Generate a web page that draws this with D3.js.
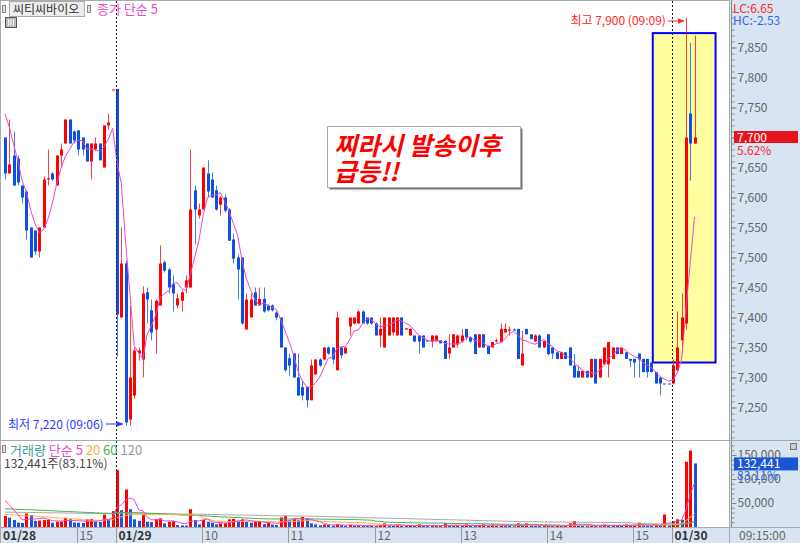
<!DOCTYPE html>
<html>
<head>
<meta charset="utf-8">
<script src="https://cdn.jsdelivr.net/npm/d3@7"></script>
<style>
  body { margin: 0; background: #fff; }
  svg text { font-family: "Noto Sans CJK KR", "Noto Sans", sans-serif; }
</style>
</head>
<body>
<svg id="chart" width="800" height="543"></svg>
<script>
// 3-minute bars: 01/28 (tail), 01/29 (full day), 01/30 (first 6 bars)
const opens = [
  7700, 7640, 7670, 7665, 7620, 7610, 7550, 7545, 7510, 7550, 7630, 7640, 7620, 7670, 7690, 7730, 7710, 7712, 7700, 7690,
  7660, 7680, 7690, 7650, 7720, 7780,
  7781, 7400, 7490, 7230, 7270, 7340, 7330, 7442, 7412, 7380, 7420, 7492, 7480, 7456, 7420, 7428, 7450, 7450, 7612, 7570,
  7580, 7640, 7630, 7612, 7588, 7600, 7580, 7530, 7500, 7500, 7380, 7400, 7442, 7420, 7431, 7420, 7420, 7408, 7400, 7350,
  7332, 7340, 7300, 7284, 7284, 7262, 7305, 7330, 7330, 7350, 7350, 7312, 7350, 7340, 7385, 7390, 7390, 7410, 7400, 7400,
  7390, 7370, 7350, 7370, 7375, 7370, 7400, 7380, 7370, 7370, 7370, 7370, 7362, 7360, 7360, 7362, 7361, 7340, 7350, 7355,
  7360, 7381, 7367, 7372, 7350, 7372, 7353, 7350, 7360, 7359, 7375, 7378, 7380, 7381, 7320, 7381, 7372, 7360, 7370, 7350,
  7372, 7350, 7342, 7331, 7342, 7350, 7320, 7311, 7300, 7311, 7300, 7331, 7300, 7322, 7322, 7331, 7350, 7339, 7342, 7331,
  7331, 7340, 7331, 7331, 7325, 7309, 7300, 7290, 7290,
  7290, 7312, 7362, 7390, 7740, 7690
];
const highs = [
  7700, 7730, 7710, 7670, 7620, 7612, 7550, 7545, 7550, 7635, 7680, 7642, 7670, 7690, 7730, 7730, 7712, 7712, 7700, 7690,
  7690, 7700, 7690, 7720, 7740, 7780,
  7781, 7550, 7495, 7420, 7350, 7350, 7452, 7450, 7430, 7430, 7520, 7495, 7482, 7470, 7440, 7445, 7470, 7680, 7620, 7590,
  7650, 7662, 7642, 7620, 7602, 7605, 7582, 7540, 7505, 7500, 7440, 7440, 7450, 7450, 7450, 7422, 7422, 7410, 7400, 7350,
  7340, 7340, 7340, 7295, 7284, 7330, 7330, 7332, 7350, 7352, 7350, 7410, 7350, 7350, 7400, 7400, 7412, 7412, 7400, 7400,
  7392, 7400, 7400, 7400, 7400, 7400, 7400, 7382, 7382, 7370, 7370, 7370, 7362, 7370, 7370, 7362, 7362, 7372, 7372, 7372,
  7381, 7381, 7367, 7372, 7372, 7372, 7353, 7359, 7365, 7390, 7390, 7385, 7382, 7381, 7378, 7381, 7372, 7372, 7372, 7361,
  7372, 7350, 7342, 7342, 7342, 7350, 7339, 7320, 7311, 7311, 7331, 7331, 7331, 7350, 7359, 7350, 7350, 7350, 7342, 7331,
  7331, 7340, 7331, 7331, 7325, 7309, 7300, 7290, 7290,
  7330, 7410, 7440, 7900, 7858, 7870
];
const lows = [
  7630, 7640, 7620, 7620, 7590, 7530, 7500, 7505, 7500, 7550, 7620, 7628, 7620, 7650, 7690, 7690, 7690, 7670, 7670, 7660,
  7630, 7678, 7662, 7650, 7712, 7780,
  7335, 7400, 7220, 7220, 7265, 7328, 7300, 7390, 7362, 7340, 7420, 7475, 7440, 7410, 7415, 7410, 7440, 7450, 7522, 7565,
  7580, 7600, 7600, 7578, 7570, 7575, 7528, 7490, 7430, 7388, 7380, 7400, 7420, 7420, 7408, 7410, 7410, 7395, 7350, 7310,
  7303, 7300, 7270, 7262, 7250, 7262, 7305, 7318, 7330, 7338, 7322, 7312, 7332, 7340, 7370, 7388, 7390, 7390, 7388, 7388,
  7370, 7350, 7350, 7370, 7370, 7370, 7370, 7380, 7370, 7359, 7340, 7350, 7360, 7350, 7360, 7357, 7331, 7331, 7350, 7350,
  7358, 7362, 7358, 7339, 7350, 7350, 7339, 7350, 7358, 7359, 7375, 7370, 7378, 7331, 7320, 7372, 7364, 7360, 7350, 7350,
  7337, 7331, 7331, 7331, 7331, 7320, 7300, 7300, 7300, 7300, 7300, 7290, 7300, 7322, 7300, 7331, 7339, 7339, 7331, 7318,
  7300, 7300, 7309, 7300, 7309, 7290, 7270, 7290, 7290,
  7288, 7310, 7340, 7380, 7628, 7690
];
const closes = [
  7640, 7655, 7620, 7625, 7600, 7545, 7500, 7510, 7550, 7630, 7632, 7630, 7670, 7680, 7730, 7690, 7695, 7680, 7680, 7660,
  7690, 7690, 7662, 7720, 7725, 7780,
  7405, 7490, 7225, 7300, 7345, 7345, 7440, 7430, 7375, 7428, 7490, 7478, 7450, 7440, 7432, 7442, 7462, 7580, 7580, 7580,
  7650, 7610, 7600, 7580, 7600, 7578, 7528, 7498, 7480, 7390, 7430, 7430, 7420, 7431, 7410, 7412, 7412, 7400, 7350, 7312,
  7320, 7300, 7270, 7270, 7262, 7320, 7330, 7320, 7350, 7340, 7330, 7400, 7337, 7350, 7400, 7400, 7410, 7390, 7390, 7390,
  7370, 7381, 7400, 7400, 7400, 7400, 7370, 7382, 7381, 7360, 7360, 7350, 7360, 7370, 7370, 7357, 7331, 7350, 7372, 7370,
  7370, 7367, 7360, 7339, 7372, 7350, 7339, 7359, 7362, 7381, 7381, 7380, 7380, 7331, 7340, 7372, 7364, 7370, 7350, 7361,
  7339, 7340, 7331, 7342, 7331, 7320, 7300, 7300, 7311, 7300, 7331, 7290, 7331, 7350, 7359, 7350, 7339, 7350, 7331, 7328,
  7325, 7330, 7309, 7309, 7309, 7290, 7290, 7290, 7290,
  7320, 7350, 7400, 7700, 7690, 7700
];
const volumes = [
  23000, 19500, 14500, 9000, 8500, 28000, 25000, 13000, 13500, 14500, 14800, 9000, 11000, 11500, 19500, 16000, 9500, 9000, 8500, 16000,
  16500, 11000, 10500, 26000, 16000, 33000,
  118700, 35000, 78000, 37000, 16000, 13000, 25000, 11000, 10500, 16000, 18000, 7600, 11000, 12000, 4000, 3500, 3000, 37000, 14600, 5500,
  14600, 11000, 9000, 5500, 7600, 8000, 16000, 17000, 13000, 16000, 11000, 9000, 11000, 12000, 6000, 9000, 5000, 4500, 20000, 23000,
  13600, 18000, 14000, 21000, 18000, 7600, 5500, 3500, 5000, 4000, 3000, 6000, 4000, 2500, 4500, 3000, 3500, 2500, 2000, 2500,
  2000, 4000, 7600, 3000, 2500, 5500, 3000, 2000, 2500, 2000, 5500, 3000, 2000, 2500, 2000, 3000, 7600, 3000, 2500, 3000,
  2500, 5500, 2500, 2000, 3000, 5500, 3000, 5500, 2500, 4000, 2500, 2000, 1500, 7600, 3000, 7600, 3000, 2500, 2000, 3000,
  2500, 2000, 2500, 2000, 3000, 7600, 12500, 3000, 2500, 2000, 3000, 2500, 2000, 5500, 3000, 2500, 3000, 2500, 5500, 3000,
  4000, 9000, 3000, 2500, 2000, 5500, 3000, 26000, 3000,
  12000, 16000, 15000, 136000, 159360, 132441
];

const tickIndex = [0, 17, 26, 46, 66, 86, 106, 126, 146, 155];
const tickLabels = ['01/28', '15', '01/29', '10', '11', '12', '13', '14', '15', '01/30'];
const dayStarts = [26, 155];          // first bar of 01/29 and 01/30
const priceTicks = d3.range(7250, 7851, 50);
const volTicks = [50000, 100000, 150000];
const priceMaStart = 7740;            // close MA5 at the first visible bar
const volMaStart = { 5: 55000, 20: 26000, 60: 38000, 120: 31000 };
const clockLabel = '09:15:00';

const W = 800, H = 543;
const plotRight = 729;
const svg = d3.select('#chart');

const x = d3.scaleLinear().domain([26, 155]).range([117, 673]);
const y = d3.scaleLinear().domain([7250, 7850]).range([407.5, 47.5]);
const yv = d3.scaleLinear().domain([0, 150000]).range([527, 455]);

const RED = '#ff0000', BLUE = '#0a4fe6';
const fmt = d3.format(',');

function movingAvg(values, n, startAvg) {
  const seed = (startAvg * n - values[0]) / (n - 1);
  return values.map((v, i) => {
    let sum = 0;
    for (let k = i - n + 1; k <= i; k++) sum += k < 0 ? seed : values[k];
    return sum / n;
  });
}

function barTime(i) {
  const start = d3.max(dayStarts.filter(s => s <= i));
  const m = 9 * 60 + (i - start) * 3;
  return String(Math.floor(m / 60)).padStart(2, '0') + ':' + String(m % 60).padStart(2, '0');
}

const candleColor = (i) => {
  if (closes[i] > opens[i]) return RED;
  if (closes[i] < opens[i]) return BLUE;
  return i > 0 && closes[i] > closes[i - 1] ? RED : BLUE;
};

// backgrounds
svg.append('rect').attr('x', 0).attr('y', 0).attr('width', W).attr('height', H).attr('fill', '#fff');
svg.append('rect').attr('x', plotRight).attr('y', 0).attr('width', W - plotRight).attr('height', H).attr('fill', '#d8e4f1');
svg.append('rect').attr('x', 0).attr('y', 527).attr('width', W).attr('height', 16).attr('fill', '#d8e4f1');

const defs = svg.append('defs');
defs.append('clipPath').attr('id', 'clipPrice')
  .append('rect').attr('x', 1).attr('y', 1).attr('width', plotRight - 1).attr('height', 439);
defs.append('clipPath').attr('id', 'clipVol')
  .append('rect').attr('x', 1).attr('y', 441).attr('width', plotRight - 1).attr('height', 86);
['red', 'blue'].forEach(c => {
  defs.append('marker').attr('id', 'arrow-' + c).attr('viewBox', '0 0 10 10')
    .attr('refX', 9).attr('refY', 5).attr('markerWidth', 7).attr('markerHeight', 7)
    .attr('orient', 'auto')
    .append('path').attr('d', 'M0,1 L10,5 L0,9 z').attr('fill', c === 'red' ? '#ff2a2a' : '#1f3cff');
});

// frame lines
svg.append('line').attr('x1', 0.5).attr('x2', 0.5).attr('y1', 0).attr('y2', 543).attr('stroke', '#aaa');
svg.append('line').attr('x1', 0).attr('x2', plotRight).attr('y1', 0.5).attr('y2', 0.5).attr('stroke', '#aaa');
svg.append('line').attr('x1', 0).attr('x2', W).attr('y1', 440.5).attr('y2', 440.5).attr('stroke', '#aaa');
svg.append('line').attr('x1', 0).attr('x2', W).attr('y1', 527.5).attr('y2', 527.5).attr('stroke', '#aaa');
svg.append('line').attr('x1', plotRight + 0.5).attr('x2', plotRight + 0.5).attr('y1', 0).attr('y2', 543).attr('stroke', '#aaa');

// ---------- price pane ----------
const price = svg.append('g').attr('clip-path', 'url(#clipPrice)');

// highlight box round the surge
const boxL = x(151) - 3, boxR = x(160) + 21;
price.append('rect')
  .attr('x', boxL).attr('y', y(7874))
  .attr('width', boxR - boxL).attr('height', y(7325) - y(7874))
  .attr('fill', '#ffffa0').attr('stroke', '#0000ff').attr('stroke-width', 2);

const idx = d3.range(opens.length);
const cx = (i) => Math.round(x(i)) + 0.5;

price.selectAll('line.wick').data(idx).join('line')
  .attr('class', 'wick')
  .attr('x1', cx).attr('x2', cx)
  .attr('y1', i => y(highs[i])).attr('y2', i => y(lows[i]))
  .attr('stroke', candleColor).attr('stroke-opacity', 0.75).attr('stroke-width', 1);

price.selectAll('rect.body').data(idx).join('rect')
  .attr('class', 'body')
  .attr('x', i => cx(i) - 1.5).attr('width', 3)
  .attr('y', i => y(Math.max(opens[i], closes[i])))
  .attr('height', i => Math.max(1, Math.abs(y(opens[i]) - y(closes[i]))))
  .attr('fill', candleColor);

const ma5 = movingAvg(closes, 5, priceMaStart);
price.append('path')
  .attr('d', d3.line().x((d, i) => x(i)).y(d => y(d))(ma5))
  .attr('fill', 'none').attr('stroke', '#ee44cc').attr('stroke-width', 1);

// high / low markers
const hiIdx = d3.maxIndex(highs), loIdx = d3.minIndex(lows);
const hi = highs[hiIdx], lo = lows[loIdx];
svg.append('text').attr('x', x(hiIdx) - 20).attr('y', y(hi) + 7.5)
  .attr('text-anchor', 'end').attr('font-size', 12).attr('fill', '#ff2a2a')
  .text(`최고 ${fmt(hi)} (${barTime(hiIdx)})`);
svg.append('line').attr('x1', x(hiIdx) - 18).attr('x2', x(hiIdx) - 2)
  .attr('y1', y(hi) + 3.5).attr('y2', y(hi) + 3.5)
  .attr('stroke', '#ff2a2a').attr('marker-end', 'url(#arrow-red)');

svg.append('text').attr('x', x(loIdx) - 22).attr('y', y(lo) + 3)
  .attr('text-anchor', 'end').attr('font-size', 12).attr('fill', '#1f3cff')
  .text(`최저 ${fmt(lo)} (${barTime(loIdx)})`);
svg.append('line').attr('x1', x(loIdx) - 20).attr('x2', x(loIdx) - 3)
  .attr('y1', y(lo) - 1.5).attr('y2', y(lo) - 1.5)
  .attr('stroke', '#1f3cff').attr('marker-end', 'url(#arrow-blue)');

// note box
const note = svg.append('g');
note.append('rect').attr('x', 329.5).attr('y', 128.5).attr('width', 193).attr('height', 61).attr('fill', '#777');
note.append('rect').attr('x', 327.5).attr('y', 126.5).attr('width', 193).attr('height', 61)
  .attr('fill', '#fff').attr('stroke', '#aaa');
['찌라시 발송이후', '급등!!'].forEach((t, k) => {
  note.append('text').attr('x', 334).attr('y', 155 + k * 26)
    .attr('font-size', 25).attr('font-weight', 'bold').attr('font-style', 'italic')
    .attr('fill', '#ff0000').text(t);
});

// ---------- volume pane ----------
const vol = svg.append('g').attr('clip-path', 'url(#clipVol)');
const volColor = (i) => (i === 0 || volumes[i] >= volumes[i - 1]) ? RED : '#1a55e0';

vol.selectAll('rect.vbar').data(idx).join('rect')
  .attr('class', 'vbar')
  .attr('x', i => cx(i) - 1.5).attr('width', 3)
  .attr('y', i => yv(volumes[i]))
  .attr('height', i => yv(0) - yv(volumes[i]))
  .attr('fill', volColor);

const volMaColors = { 120: '#a8a8a8', 60: '#3fb35c', 20: '#ffb43c', 5: '#ee44cc' };
[120, 60, 20, 5].forEach(n => {
  const m = movingAvg(volumes, n, volMaStart[n]);
  vol.append('path')
    .attr('d', d3.line().x((d, i) => x(i)).y(d => yv(d))(m))
    .attr('fill', 'none').attr('stroke', volMaColors[n]).attr('stroke-width', 1);
});

// day separators
dayStarts.forEach(s => {
  svg.append('line')
    .attr('x1', Math.round(x(s)) - 0.5).attr('x2', Math.round(x(s)) - 0.5)
    .attr('y1', 1).attr('y2', 527)
    .attr('stroke', '#222').attr('stroke-dasharray', '2,2');
});

// ---------- right axes ----------
const axisX = 731;
svg.append('line').attr('x1', axisX + 0.5).attr('x2', axisX + 0.5).attr('y1', 0).attr('y2', 440)
  .attr('stroke', '#888');
svg.append('line').attr('x1', axisX + 0.5).attr('x2', axisX + 0.5).attr('y1', 441).attr('y2', 527)
  .attr('stroke', '#888');

const minorP = svg.append('g').attr('transform', `translate(${axisX + 0.5},0)`)
  .call(d3.axisRight(y).tickValues(d3.range(7200, 7911, 10)).tickSize(3).tickFormat(''));
const majorP = svg.append('g').attr('transform', `translate(${axisX + 0.5},0)`)
  .call(d3.axisRight(y).tickValues(priceTicks).tickSize(5).tickPadding(1).tickFormat(fmt));
const minorV = svg.append('g').attr('transform', `translate(${axisX + 0.5},0)`)
  .call(d3.axisRight(yv).tickValues(d3.range(10000, 190001, 10000)).tickSize(3).tickFormat(''));
const majorV = svg.append('g').attr('transform', `translate(${axisX + 0.5},0)`)
  .call(d3.axisRight(yv).tickValues(volTicks).tickSize(5).tickPadding(1).tickFormat(fmt));
[minorP, majorP, minorV, majorV].forEach(g => {
  g.select('.domain').remove();
  g.selectAll('line').attr('stroke', '#888');
  g.selectAll('text').attr('font-size', 12).attr('fill', '#666')
    .attr('font-family', '"Noto Sans CJK KR", sans-serif');
});
minorP.selectAll('.tick').filter(d => y(d) < 2 || y(d) > 438).remove();
majorP.selectAll('.tick').filter(d => y(d) < 2 || y(d) > 438).remove();
minorV.selectAll('.tick').filter(d => yv(d) < 443).remove();

// last price tag
const last = closes[closes.length - 1];
const prevClose = closes[dayStarts[1] - 1];
svg.append('rect').attr('x', 734).attr('y', y(last) - 6.5).attr('width', 64).attr('height', 12).attr('fill', '#e8141c');
svg.append('text').attr('x', 737).attr('y', y(last) + 4).attr('font-size', 12).attr('fill', '#fff').text(fmt(last));
svg.append('text').attr('x', 737).attr('y', y(last) + 17).attr('font-size', 12).attr('fill', '#ff2a2a')
  .text(((last - prevClose) / prevClose * 100).toFixed(2) + '%');

svg.append('text').attr('x', 733).attr('y', 13).attr('font-size', 12).attr('fill', '#ff2a2a')
  .text('LC:' + ((last - lo) / lo * 100).toFixed(2));
svg.append('text').attr('x', 733).attr('y', 25).attr('font-size', 12).attr('fill', '#2f6ae0')
  .text('HC:' + ((last - hi) / hi * 100).toFixed(2));

// last volume tag
const lastVol = volumes[volumes.length - 1];
const volPct = (lastVol / volumes[volumes.length - 2] * 100).toFixed(2);
svg.append('rect').attr('x', 734).attr('y', yv(lastVol) - 6).attr('width', 64).attr('height', 13).attr('fill', '#1a55d8');
svg.append('text').attr('x', 737).attr('y', yv(lastVol) + 5).attr('font-size', 12).attr('fill', '#fff').text(fmt(lastVol));
svg.append('text').attr('x', 737).attr('y', yv(lastVol) + 17).attr('font-size', 12).attr('fill', '#2f6ae0')
  .text(volPct + '%');
svg.append('rect').attr('x', 790.5).attr('y', 443.5).attr('width', 6).attr('height', 6)
  .attr('fill', '#ccc').attr('stroke', '#777');

// ---------- bottom time axis ----------
tickIndex.forEach((t, k) => {
  const tx = Math.round(x(t)) - 0.5;
  if (k > 0) {
    svg.append('line').attr('x1', tx).attr('x2', tx).attr('y1', 527).attr('y2', 543).attr('stroke', '#999');
  }
  const isDate = tickLabels[k].includes('/');
  svg.append('text').attr('x', k === 0 ? 3 : tx + 2).attr('y', 540)
    .attr('font-size', 12).attr('fill', isDate ? '#333' : '#666')
    .attr('font-weight', isDate ? 'bold' : 'normal')
    .text(tickLabels[k]);
});
svg.append('text').attr('x', 739).attr('y', 540).attr('font-size', 12).attr('fill', '#666').text(clockLabel);

// ---------- pane headers ----------
svg.append('rect').attr('x', 2.5).attr('y', 5.5).attr('width', 3).attr('height', 7).attr('fill', '#ddd').attr('stroke', '#888');
svg.append('rect').attr('x', 9.5).attr('y', 1.5).attr('width', 75).attr('height', 15).attr('fill', '#ececec').attr('stroke', '#aaa');
svg.append('text').attr('x', 13).attr('y', 13.5).attr('font-size', 12).attr('fill', '#333').text('씨티씨바이오');
svg.append('rect').attr('x', 87.5).attr('y', 5.5).attr('width', 3).attr('height', 7).attr('fill', '#ddd').attr('stroke', '#888');
svg.append('text').attr('x', 97).attr('y', 14).attr('font-size', 13).attr('fill', '#e64bc8').text('종가 단순 5');
const grid = svg.append('g').attr('transform', 'translate(5.5,17.5)');
grid.append('rect').attr('width', 11).attr('height', 10).attr('fill', '#bbb').attr('stroke', '#555');
[3, 5.5, 8].forEach(gx => grid.append('line').attr('x1', gx).attr('x2', gx).attr('y1', 2).attr('y2', 8).attr('stroke', '#fff'));

svg.append('rect').attr('x', 2.5).attr('y', 445.5).attr('width', 3).attr('height', 7).attr('fill', '#ddd').attr('stroke', '#888');
const vh = svg.append('text').attr('x', 10).attr('y', 455).attr('font-size', 13);
[['거래량 ', '#3a9c9c'], ['단순 5 ', '#e64bc8'], ['20 ', '#f4b13a'], ['60 ', '#3fae58'], ['120', '#999']]
  .forEach(([t, c]) => vh.append('tspan').attr('fill', c).text(t));
svg.append('text').attr('x', 4).attr('y', 468).attr('font-size', 12).attr('fill', '#444')
  .text(`${fmt(lastVol)}주(${volPct}%)`);
</script>
</body>
</html>
